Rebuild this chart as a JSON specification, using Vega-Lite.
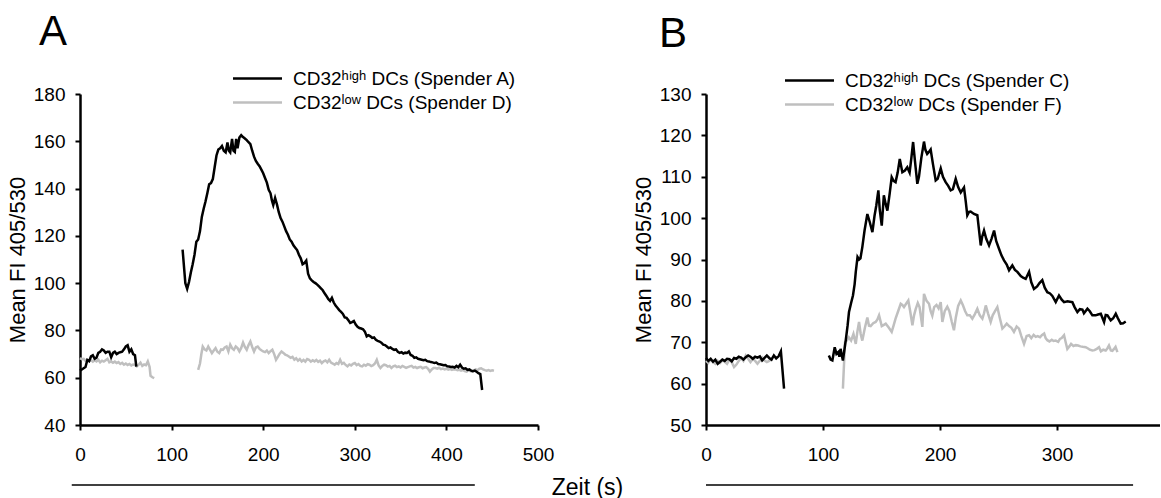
{
"$schema": "https://vega.github.io/schema/vega-lite/v6.json",
"background": "white",
"padding": {"left": 6, "top": 11, "right": 0, "bottom": 5},
"config": {
 "font": "Liberation Sans",
 "view": {"stroke": null},
 "axis": {"domainColor": "black", "domainWidth": 2.5, "tickColor": "black", "tickWidth": 2, "tickSize": 5, "labelColor": "black", "labelFontSize": 19, "titleColor": "black", "titleFontSize": 22, "titleFontWeight": "normal", "grid": false, "labelFont": "Liberation Sans", "titleFont": "Liberation Sans", "labelFlush": false},
 "axisX": {"labelPadding": 15, "labelAngle": 0},
 "axisY": {"labelPadding": 10, "titlePadding": 4},
 "legend": {"orient": "none", "labelFontSize": 19, "labelColor": "black", "labelFont": "Liberation Sans", "labelLimit": 0, "symbolType": "M-2,0H2", "symbolSize": 600, "symbolStrokeWidth": 2.5, "labelOffset": 22, "rowPadding": 0, "padding": 0},
 "title": {"fontSize": 42, "fontWeight": "normal", "anchor": "start", "frame": "group", "color": "black", "font": "Liberation Sans"}
},
"datasets": {
 "A_h1": [{"t":0,"v":63},{"t":2,"v":63.5},{"t":4,"v":64},{"t":6,"v":64.5},{"t":8,"v":67.5},{"t":10,"v":67},{"t":12,"v":69},{"t":14,"v":69.5},{"t":16,"v":68},{"t":18,"v":68.5},{"t":20,"v":70.5},{"t":22,"v":71},{"t":24,"v":72},{"t":26,"v":71.5},{"t":28,"v":70.5},{"t":30,"v":71},{"t":32,"v":71},{"t":34,"v":68.7},{"t":36,"v":70.5},{"t":38,"v":71},{"t":40,"v":70},{"t":42,"v":70.5},{"t":44,"v":70.8},{"t":46,"v":71},{"t":48,"v":72},{"t":50,"v":73.2},{"t":52,"v":73.7},{"t":54,"v":71},{"t":56,"v":72},{"t":58,"v":70},{"t":60,"v":69.5},{"t":61.5,"v":64.7}],
 "A_h2": [{"t":112,"v":114.2},{"t":115,"v":100},{"t":117,"v":97.6},{"t":119,"v":100.5},{"t":121,"v":104.5},{"t":123,"v":108},{"t":125,"v":112},{"t":127,"v":117.5},{"t":129,"v":118.5},{"t":131,"v":122},{"t":133,"v":128},{"t":135,"v":131.5},{"t":137,"v":134.5},{"t":139,"v":138},{"t":141,"v":141.8},{"t":143,"v":142.3},{"t":145,"v":144},{"t":147,"v":149},{"t":149,"v":154},{"t":151,"v":156.5},{"t":153,"v":157},{"t":155,"v":158},{"t":157,"v":156},{"t":159,"v":155.3},{"t":161,"v":159.5},{"t":162.5,"v":156},{"t":164,"v":155.3},{"t":166,"v":161},{"t":167.5,"v":156},{"t":169,"v":155.5},{"t":170.5,"v":161},{"t":172,"v":157},{"t":174,"v":161.6},{"t":176,"v":162.6},{"t":178,"v":161.8},{"t":180,"v":161.2},{"t":182,"v":160.5},{"t":184,"v":159.6},{"t":186,"v":158.8},{"t":188,"v":156},{"t":190,"v":153.5},{"t":192,"v":151.7},{"t":194,"v":150.5},{"t":196,"v":149.5},{"t":198,"v":148},{"t":200,"v":146.5},{"t":202,"v":144.5},{"t":204,"v":142.5},{"t":206,"v":139.5},{"t":208,"v":138},{"t":209.5,"v":135},{"t":211,"v":133},{"t":213,"v":136},{"t":215,"v":133.3},{"t":217,"v":130},{"t":219,"v":127.5},{"t":221,"v":126},{"t":223,"v":124},{"t":225,"v":122},{"t":227,"v":120.5},{"t":229,"v":118.5},{"t":231,"v":117.5},{"t":233,"v":116},{"t":235,"v":115},{"t":237,"v":114},{"t":239,"v":112},{"t":241,"v":110.5},{"t":243,"v":108},{"t":245,"v":108.5},{"t":247,"v":109.5},{"t":249,"v":104},{"t":251,"v":102},{"t":253,"v":101.2},{"t":255,"v":100.5},{"t":257,"v":100},{"t":259,"v":99.4},{"t":261,"v":98.6},{"t":263,"v":97.8},{"t":265,"v":97},{"t":267,"v":95.7},{"t":269,"v":94.6},{"t":271,"v":93.3},{"t":273,"v":92.5},{"t":275,"v":93.8},{"t":277,"v":91.8},{"t":279,"v":90.5},{"t":281,"v":89.6},{"t":283,"v":88.6},{"t":285,"v":87.8},{"t":287,"v":87},{"t":289,"v":85.5},{"t":291,"v":85.3},{"t":293,"v":84.3},{"t":295,"v":83.2},{"t":297,"v":83.5},{"t":299,"v":84},{"t":301,"v":82.5},{"t":303,"v":81.5},{"t":305,"v":81},{"t":307,"v":80.8},{"t":309,"v":80.5},{"t":311,"v":79.5},{"t":313,"v":77.5},{"t":315,"v":78},{"t":317,"v":77.5},{"t":319,"v":76.8},{"t":321,"v":77},{"t":323,"v":76},{"t":325,"v":75.6},{"t":327,"v":75.3},{"t":329,"v":74.8},{"t":331,"v":74},{"t":333,"v":73.8},{"t":335,"v":73.2},{"t":337,"v":72.5},{"t":339,"v":72.8},{"t":341,"v":72.2},{"t":343,"v":71.8},{"t":345,"v":72},{"t":347,"v":71},{"t":349,"v":70.5},{"t":351,"v":70.8},{"t":353,"v":70.2},{"t":355,"v":70.6},{"t":357,"v":70.5},{"t":359,"v":71.1},{"t":361,"v":69.6},{"t":363,"v":69.3},{"t":365,"v":68.4},{"t":367,"v":68.6},{"t":369,"v":68},{"t":371,"v":67.8},{"t":373,"v":67.6},{"t":375,"v":67.4},{"t":377,"v":67.6},{"t":379,"v":67},{"t":381,"v":66.9},{"t":383,"v":66.6},{"t":385,"v":66.5},{"t":387,"v":66.2},{"t":389,"v":66.4},{"t":391,"v":65.8},{"t":393,"v":65.7},{"t":395,"v":65.5},{"t":397,"v":65.3},{"t":399,"v":65.4},{"t":401,"v":64.8},{"t":403,"v":64.7},{"t":405,"v":64.5},{"t":407,"v":64.6},{"t":409,"v":64.3},{"t":411,"v":65},{"t":413,"v":64.4},{"t":415,"v":65.5},{"t":417,"v":64.3},{"t":419,"v":63.8},{"t":421,"v":64},{"t":423,"v":63.3},{"t":425,"v":63.5},{"t":427,"v":63},{"t":429,"v":62.8},{"t":431,"v":63},{"t":433,"v":62.5},{"t":435,"v":61.9},{"t":437,"v":61.5},{"t":439,"v":54.8}],
 "A_l1": [{"t":0,"v":68.3},{"t":2,"v":67.8},{"t":4,"v":68},{"t":6,"v":67.2},{"t":8,"v":67.5},{"t":10,"v":66.9},{"t":12,"v":67.5},{"t":14,"v":66.8},{"t":16,"v":67.4},{"t":18,"v":66.9},{"t":20,"v":67.6},{"t":22,"v":66.5},{"t":24,"v":67.2},{"t":26,"v":66.8},{"t":28,"v":67.4},{"t":30,"v":68},{"t":32,"v":66.5},{"t":34,"v":66.9},{"t":36,"v":66.3},{"t":38,"v":66.8},{"t":40,"v":66.2},{"t":42,"v":66.6},{"t":44,"v":65.8},{"t":46,"v":66.3},{"t":48,"v":65.5},{"t":50,"v":66},{"t":52,"v":65.4},{"t":54,"v":65.8},{"t":56,"v":65.2},{"t":58,"v":65.6},{"t":60,"v":65.4},{"t":62,"v":64.8},{"t":64,"v":65.5},{"t":66,"v":66.4},{"t":68,"v":65},{"t":70,"v":65.6},{"t":72,"v":65.3},{"t":74,"v":66.9},{"t":76,"v":64.5},{"t":77,"v":60.8},{"t":79,"v":60.2},{"t":81,"v":59.8}],
 "A_l2": [{"t":129,"v":63.3},{"t":131,"v":66},{"t":132.5,"v":70},{"t":134,"v":73.2},{"t":136,"v":72},{"t":138,"v":71.5},{"t":140,"v":73.2},{"t":142,"v":71.8},{"t":144,"v":70.4},{"t":146,"v":71.5},{"t":148,"v":72.5},{"t":150,"v":71},{"t":152,"v":70.4},{"t":154,"v":72},{"t":156,"v":71.8},{"t":158,"v":72.8},{"t":160,"v":73.2},{"t":162,"v":71.1},{"t":164,"v":74},{"t":166,"v":72.5},{"t":168,"v":71.8},{"t":170,"v":73.2},{"t":172,"v":72.5},{"t":174,"v":71.1},{"t":176,"v":72.6},{"t":178,"v":74.9},{"t":180,"v":73},{"t":182,"v":71.8},{"t":184,"v":73.8},{"t":186,"v":75.3},{"t":188,"v":73},{"t":190,"v":71.1},{"t":192,"v":72.8},{"t":194,"v":73.2},{"t":196,"v":72.2},{"t":198,"v":71.6},{"t":200,"v":71.1},{"t":202,"v":70.8},{"t":204,"v":71.5},{"t":206,"v":70.4},{"t":208,"v":71.2},{"t":210,"v":71.8},{"t":212,"v":70},{"t":214,"v":67.6},{"t":216,"v":68.8},{"t":218,"v":70.2},{"t":220,"v":71.1},{"t":222,"v":70.5},{"t":224,"v":69.8},{"t":226,"v":69.5},{"t":228,"v":69},{"t":230,"v":68.4},{"t":232,"v":68.8},{"t":234,"v":67.6},{"t":236,"v":68.2},{"t":238,"v":67.2},{"t":240,"v":67.9},{"t":242,"v":66.9},{"t":244,"v":67.5},{"t":246,"v":66.8},{"t":248,"v":67.9},{"t":250,"v":67.6},{"t":252,"v":66.8},{"t":254,"v":67.4},{"t":256,"v":66.9},{"t":258,"v":67.5},{"t":260,"v":66.7},{"t":262,"v":67.2},{"t":264,"v":66.2},{"t":266,"v":66.9},{"t":268,"v":67.3},{"t":270,"v":66.5},{"t":272,"v":67.6},{"t":274,"v":66.4},{"t":276,"v":66},{"t":278,"v":65.5},{"t":280,"v":66.2},{"t":282,"v":65.8},{"t":284,"v":67.6},{"t":286,"v":65.9},{"t":288,"v":66.3},{"t":290,"v":65.4},{"t":292,"v":64.8},{"t":294,"v":65.6},{"t":296,"v":65.2},{"t":298,"v":65.9},{"t":300,"v":66.2},{"t":302,"v":65.3},{"t":304,"v":65.8},{"t":306,"v":65},{"t":308,"v":64.8},{"t":310,"v":65.5},{"t":312,"v":65.1},{"t":314,"v":65.7},{"t":316,"v":65.5},{"t":318,"v":64.9},{"t":320,"v":65.3},{"t":322,"v":66},{"t":324,"v":67.6},{"t":326,"v":65.2},{"t":328,"v":64.1},{"t":330,"v":65},{"t":332,"v":65.5},{"t":334,"v":65.3},{"t":336,"v":64.7},{"t":338,"v":65},{"t":340,"v":64.1},{"t":342,"v":64.8},{"t":344,"v":65.1},{"t":346,"v":64.5},{"t":348,"v":64.8},{"t":350,"v":64.3},{"t":352,"v":65},{"t":354,"v":64.6},{"t":356,"v":64.2},{"t":358,"v":64.5},{"t":360,"v":64.8},{"t":362,"v":65},{"t":364,"v":64.3},{"t":366,"v":64.6},{"t":368,"v":64.1},{"t":370,"v":64.4},{"t":372,"v":64.6},{"t":374,"v":64},{"t":376,"v":64.3},{"t":378,"v":64.5},{"t":380,"v":63.8},{"t":382,"v":62.6},{"t":384,"v":63.5},{"t":386,"v":64.1},{"t":388,"v":64.1},{"t":390,"v":63.8},{"t":392,"v":64.2},{"t":394,"v":63.6},{"t":396,"v":63.9},{"t":398,"v":63.5},{"t":400,"v":63.8},{"t":402,"v":63.4},{"t":404,"v":63.7},{"t":406,"v":63.3},{"t":408,"v":63.6},{"t":410,"v":63.5},{"t":412,"v":63.2},{"t":414,"v":63.4},{"t":416,"v":63},{"t":418,"v":63.3},{"t":420,"v":62.8},{"t":422,"v":62.6},{"t":424,"v":63.1},{"t":426,"v":62.8},{"t":428,"v":62.6},{"t":430,"v":63},{"t":432,"v":63.5},{"t":434,"v":63.2},{"t":436,"v":63.8},{"t":438,"v":64},{"t":440,"v":63.5},{"t":442,"v":63.2},{"t":444,"v":63},{"t":446,"v":63.2},{"t":448,"v":62.9},{"t":450,"v":63.1},{"t":452,"v":63}],
 "A_bar": [{"t":-9,"t2":431,"v":14.6}],
 "B_h1": [{"t":0,"v":66.2},{"t":2,"v":65.5},{"t":4,"v":66},{"t":6,"v":65.3},{"t":8,"v":65.8},{"t":10,"v":64.8},{"t":12,"v":65.3},{"t":14,"v":65.8},{"t":16,"v":65.5},{"t":18,"v":66},{"t":20,"v":65.9},{"t":22,"v":65.4},{"t":24,"v":66.2},{"t":26,"v":66},{"t":28,"v":66.5},{"t":30,"v":66.3},{"t":32,"v":65.8},{"t":34,"v":66.4},{"t":36,"v":66.8},{"t":38,"v":66.5},{"t":40,"v":66},{"t":42,"v":66.5},{"t":44,"v":66.3},{"t":46,"v":66.6},{"t":48,"v":65.6},{"t":50,"v":66.2},{"t":52,"v":66.8},{"t":54,"v":66.2},{"t":56,"v":65.8},{"t":58,"v":66.8},{"t":60,"v":66.1},{"t":62,"v":66.6},{"t":64,"v":67.8},{"t":66.7,"v":58.8}],
 "B_h2": [{"t":105,"v":66.8},{"t":106.5,"v":65.8},{"t":108,"v":65.6},{"t":110,"v":68.8},{"t":111.5,"v":67.2},{"t":113,"v":67.6},{"t":114,"v":66.5},{"t":115,"v":68.4},{"t":116,"v":67},{"t":117,"v":65.6},{"t":119.4,"v":70.4},{"t":121,"v":74},{"t":122.2,"v":77.3},{"t":124,"v":79.5},{"t":125.6,"v":81.3},{"t":127,"v":84},{"t":128,"v":87},{"t":129.5,"v":90.6},{"t":130.8,"v":90},{"t":132,"v":90.3},{"t":133.6,"v":93},{"t":135.5,"v":97},{"t":137.9,"v":101},{"t":140,"v":99},{"t":142.2,"v":96.6},{"t":144,"v":100.5},{"t":145.5,"v":103},{"t":147.3,"v":106.7},{"t":148.5,"v":102},{"t":150.2,"v":98.2},{"t":152,"v":105.5},{"t":153.5,"v":103.5},{"t":155,"v":101.8},{"t":157,"v":106},{"t":158.7,"v":109.9},{"t":160.3,"v":109},{"t":162,"v":108.7},{"t":163.8,"v":111},{"t":165.6,"v":114.3},{"t":167.8,"v":111.1},{"t":170,"v":111.5},{"t":172,"v":112.3},{"t":174,"v":111},{"t":175.5,"v":114.5},{"t":177,"v":118.4},{"t":178.5,"v":114},{"t":180.6,"v":108.3},{"t":182,"v":110},{"t":184,"v":114.5},{"t":186.3,"v":118.5},{"t":187.5,"v":116.5},{"t":189,"v":115.5},{"t":190.5,"v":116},{"t":192,"v":116.6},{"t":194,"v":113},{"t":196.3,"v":109.1},{"t":198,"v":109.5},{"t":200.6,"v":112},{"t":202.5,"v":110},{"t":204.8,"v":108.7},{"t":207,"v":107.8},{"t":209.1,"v":106.7},{"t":211,"v":107},{"t":213.4,"v":109.5},{"t":215.5,"v":107.5},{"t":217.7,"v":106.2},{"t":220.5,"v":107.4},{"t":222,"v":104},{"t":223.3,"v":100.7},{"t":224.8,"v":101.5},{"t":226.2,"v":101.6},{"t":229,"v":101},{"t":231.9,"v":100.7},{"t":234.8,"v":93.4},{"t":236,"v":95.5},{"t":237.6,"v":97},{"t":239.5,"v":95},{"t":241.9,"v":93.4},{"t":244,"v":95},{"t":246.2,"v":97},{"t":248,"v":94.5},{"t":250.4,"v":92.6},{"t":252.5,"v":91},{"t":254.7,"v":89.8},{"t":257,"v":88.8},{"t":259,"v":87.4},{"t":261.8,"v":88.6},{"t":264,"v":87.5},{"t":266.1,"v":87},{"t":269,"v":86},{"t":271,"v":85.6},{"t":273.2,"v":85.3},{"t":276.1,"v":87},{"t":278,"v":84.5},{"t":280.3,"v":82.9},{"t":283,"v":83.5},{"t":285,"v":84.3},{"t":287.4,"v":85},{"t":289.5,"v":83.2},{"t":291.7,"v":82.1},{"t":294,"v":81.8},{"t":296,"v":81.2},{"t":298.9,"v":79.7},{"t":301.7,"v":81.3},{"t":304,"v":80.3},{"t":306,"v":79.7},{"t":309,"v":79.9},{"t":311,"v":79.8},{"t":313.1,"v":79.7},{"t":315,"v":78.5},{"t":317.4,"v":77.3},{"t":319.5,"v":78},{"t":321.7,"v":77.9},{"t":323,"v":77},{"t":326,"v":78.1},{"t":328,"v":77.5},{"t":330.2,"v":76.5},{"t":333,"v":76.5},{"t":335,"v":76.7},{"t":337.4,"v":76.9},{"t":340.2,"v":74.9},{"t":341.6,"v":76.6},{"t":343.1,"v":76.5},{"t":345.9,"v":75.3},{"t":348,"v":75.8},{"t":350.2,"v":76.9},{"t":352,"v":75.8},{"t":354.4,"v":74.5},{"t":356.5,"v":74.6},{"t":358.7,"v":75}],
 "B_l1": [{"t":0,"v":65.5},{"t":2,"v":65},{"t":4,"v":65.8},{"t":6,"v":65.2},{"t":8,"v":64.8},{"t":10,"v":65.5},{"t":12,"v":65},{"t":14,"v":65.6},{"t":16,"v":65.3},{"t":18,"v":64.8},{"t":20,"v":65.8},{"t":22,"v":65.2},{"t":24,"v":64},{"t":26,"v":64.6},{"t":28,"v":65.5},{"t":30,"v":66.2},{"t":32,"v":65.5},{"t":34,"v":66.8},{"t":36,"v":66},{"t":38,"v":65.2},{"t":40,"v":66},{"t":42,"v":65.5},{"t":44,"v":64.8},{"t":46,"v":65.5},{"t":48,"v":66.3},{"t":50,"v":65.6},{"t":52,"v":65.2},{"t":54,"v":65.5},{"t":55,"v":65.8}],
 "B_l2": [{"t":117,"v":58.8},{"t":118.8,"v":70},{"t":120.5,"v":70.5},{"t":122,"v":71.2},{"t":124,"v":70.4},{"t":126,"v":72},{"t":128,"v":69.6},{"t":129.5,"v":72.8},{"t":130.8,"v":74.9},{"t":132.2,"v":72},{"t":133.6,"v":70.4},{"t":135.8,"v":73.5},{"t":137.9,"v":76},{"t":139.3,"v":74},{"t":140.7,"v":73.9},{"t":142.9,"v":74.6},{"t":145,"v":74.9},{"t":146.5,"v":75.5},{"t":147.9,"v":76.5},{"t":150.2,"v":73.9},{"t":152,"v":74.2},{"t":153.6,"v":74.5},{"t":156,"v":73.6},{"t":158.7,"v":72.5},{"t":160.3,"v":74},{"t":162,"v":75.7},{"t":164.2,"v":77.5},{"t":166.4,"v":79.3},{"t":167.8,"v":79},{"t":169.2,"v":78.5},{"t":171,"v":79.3},{"t":172.9,"v":80.1},{"t":174.5,"v":77.5},{"t":176.4,"v":74.1},{"t":177.8,"v":76.5},{"t":179.2,"v":78},{"t":181,"v":79.5},{"t":182.5,"v":78.5},{"t":184.9,"v":73.7},{"t":186.3,"v":81.7},{"t":188.5,"v":80},{"t":190.6,"v":79.3},{"t":192,"v":77.5},{"t":193.4,"v":76.4},{"t":195,"v":78.5},{"t":197,"v":79},{"t":198.8,"v":78.2},{"t":200.6,"v":79.7},{"t":202,"v":74.9},{"t":204,"v":77.5},{"t":206.2,"v":78.6},{"t":208,"v":77.5},{"t":210,"v":75},{"t":211.9,"v":72.9},{"t":213.5,"v":76},{"t":215.5,"v":78.8},{"t":217.7,"v":80.1},{"t":219.5,"v":79},{"t":221.5,"v":77.5},{"t":223.3,"v":76.5},{"t":225.5,"v":76.5},{"t":227.6,"v":75.7},{"t":229.8,"v":76.8},{"t":231.9,"v":78.1},{"t":234,"v":76.5},{"t":236.2,"v":75.7},{"t":237.6,"v":77},{"t":239.1,"v":78.9},{"t":241,"v":77},{"t":243.3,"v":74.9},{"t":245,"v":76.5},{"t":247,"v":77.5},{"t":249,"v":78.5},{"t":251,"v":76},{"t":253.3,"v":73.3},{"t":255,"v":73.8},{"t":257,"v":74.5},{"t":259,"v":73.9},{"t":261,"v":73.5},{"t":263.2,"v":72.5},{"t":265.5,"v":73.8},{"t":267.5,"v":73.3},{"t":269.5,"v":71.5},{"t":271.8,"v":69.6},{"t":274,"v":71.5},{"t":276.1,"v":71.7},{"t":278,"v":71},{"t":280,"v":71.8},{"t":281.8,"v":71.3},{"t":283.5,"v":71.5},{"t":285.5,"v":71.2},{"t":287,"v":71.7},{"t":289,"v":72.1},{"t":290.3,"v":71},{"t":291.7,"v":70.5},{"t":293.5,"v":70.2},{"t":295.5,"v":70.6},{"t":297,"v":70.3},{"t":298.9,"v":70.4},{"t":301,"v":70.1},{"t":302.5,"v":70.8},{"t":304,"v":71},{"t":306,"v":71.7},{"t":307.5,"v":69.9},{"t":308.8,"v":68.4},{"t":310.5,"v":69},{"t":312,"v":69.6},{"t":314,"v":69.1},{"t":316,"v":69.3},{"t":318,"v":69.2},{"t":320,"v":69},{"t":322,"v":68.9},{"t":324.5,"v":68.8},{"t":326.5,"v":68.5},{"t":328,"v":68.2},{"t":330.2,"v":68},{"t":332,"v":68.1},{"t":334,"v":68.4},{"t":335.9,"v":68.8},{"t":337.5,"v":67.8},{"t":339.5,"v":68.2},{"t":341.6,"v":68},{"t":343,"v":68.5},{"t":344.4,"v":69.2},{"t":346,"v":68},{"t":347.3,"v":67.9},{"t":348.7,"v":68.4},{"t":350,"v":68.9},{"t":351.6,"v":67.6}],
 "B_bar": [{"t":0,"t2":365,"v":35.5}]
},
"resolve": {"scale": {"color": "independent"}, "legend": {"color": "independent"}},
"spacing": 168,
"bounds": "flush",
"hconcat": [
 {
  "width": 458, "height": 331,
  "title": {"text": "A", "dx": -41, "offset": 11},
  "encoding": {
   "x": {"field": "t", "type": "quantitative", "scale": {"domain": [0, 500], "nice": false}, "axis": {"values": [0, 100, 200, 300, 400, 500], "title": "Zeit (s)", "titleFontSize": 23, "titleX": 507, "titleY": 62, "titleBaseline": "middle", "titleAlign": "center"}},
   "y": {"field": "v", "type": "quantitative", "scale": {"domain": [40, 180], "nice": false, "zero": false}, "axis": {"values": [40, 60, 80, 100, 120, 140, 160, 180], "title": "Mean FI 405/530"}}
  },
  "layer": [
   {"data": {"name": "A_l1"}, "mark": {"type": "line", "strokeWidth": 2.5}, "encoding": {"color": {"datum": "l", "type": "nominal", "scale": {"domain": ["h", "l"], "range": ["#000000", "#bfbfbf"]}, "legend": {"title": null, "legendX": 164, "legendY": -29, "labelExpr": "datum.value == 'h' ? 'CD32ʰⁱᵍʰ DCs (Spender A)' : 'CD32ˡᵒʷ  DCs (Spender D)'"}}}},
   {"data": {"name": "A_l2"}, "mark": {"type": "line", "strokeWidth": 2.5}, "encoding": {"color": {"datum": "l", "type": "nominal"}}},
   {"data": {"name": "A_h1"}, "mark": {"type": "line", "strokeWidth": 2.5}, "encoding": {"color": {"datum": "h", "type": "nominal"}}},
   {"data": {"name": "A_h2"}, "mark": {"type": "line", "strokeWidth": 2.5}, "encoding": {"color": {"datum": "h", "type": "nominal"}}},
   {"data": {"name": "A_bar"}, "mark": {"type": "rule", "color": "black", "strokeWidth": 1.5}, "encoding": {"x2": {"field": "t2"}}}
  ]
 },
 {
  "width": 454, "height": 331,
  "title": {"text": "B", "dx": -47, "offset": 11},
  "encoding": {
   "x": {"field": "t", "type": "quantitative", "scale": {"domain": [0, 388], "nice": false}, "axis": {"values": [0, 100, 200, 300], "title": null}},
   "y": {"field": "v", "type": "quantitative", "scale": {"domain": [50, 130], "nice": false, "zero": false}, "axis": {"values": [50, 60, 70, 80, 90, 100, 110, 120, 130], "title": "Mean FI 405/530"}}
  },
  "layer": [
   {"data": {"name": "B_l1"}, "mark": {"type": "line", "strokeWidth": 2.5}, "encoding": {"color": {"datum": "l", "type": "nominal", "scale": {"domain": ["h", "l"], "range": ["#000000", "#bfbfbf"]}, "legend": {"title": null, "legendX": 90, "legendY": -27, "labelExpr": "datum.value == 'h' ? 'CD32ʰⁱᵍʰ DCs (Spender C)' : 'CD32ˡᵒʷ DCs (Spender F)'"}}}},
   {"data": {"name": "B_l2"}, "mark": {"type": "line", "strokeWidth": 2.5}, "encoding": {"color": {"datum": "l", "type": "nominal"}}},
   {"data": {"name": "B_h1"}, "mark": {"type": "line", "strokeWidth": 2.5}, "encoding": {"color": {"datum": "h", "type": "nominal"}}},
   {"data": {"name": "B_h2"}, "mark": {"type": "line", "strokeWidth": 2.5}, "encoding": {"color": {"datum": "h", "type": "nominal"}}},
   {"data": {"name": "B_bar"}, "mark": {"type": "rule", "color": "black", "strokeWidth": 1.5}, "encoding": {"x2": {"field": "t2"}}}
  ]
 }
]
}
